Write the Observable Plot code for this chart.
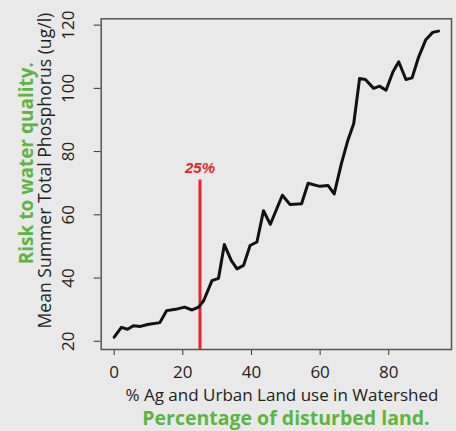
<!DOCTYPE html>
<html>
<head>
<meta charset="utf-8">
<script src="https://cdn.jsdelivr.net/npm/d3@7"></script>
<script src="https://cdn.jsdelivr.net/npm/@observablehq/plot@0.6"></script>
<style>
  html, body { margin: 0; padding: 0; background: #e9e9e9; }
</style>
</head>
<body>
<div id="chart"></div>
<script>
const pctDisturbed = [0,2.1,3.9,5.6,7.7,9.7,13.3,15.3,17.9,20.5,22.7,24.6,26.1,28.5,30.4,32.1,34.1,35.8,37.7,39.6,41.6,43.5,45.5,49.0,51.2,54.6,56.5,59.9,62.3,64.1,66.2,68.1,69.8,71.5,73.2,75.6,77.3,79.2,81.2,82.9,85.0,86.8,88.7,90.8,92.8,94.5];
const phosphorus = [21.3,24.4,23.8,24.9,24.7,25.3,25.9,29.7,30.1,30.8,29.9,30.8,32.9,39.2,39.9,50.6,45.6,42.9,44.0,50.3,51.4,61.3,57.0,66.2,63.3,63.5,70.0,69.0,69.3,66.6,76.2,83.6,88.9,103.1,102.8,100.0,100.7,99.4,105.2,108.4,102.8,103.3,109.9,115.4,117.7,118.1];
const xTicks = [0, 20, 40, 60, 80];
const yTicks = [20, 40, 60, 80, 100, 120];
const cutoff = 25;
const cutoffTop = 71;
const cutoffLabel = "25%";
const xLabel = "% Ag and Urban Land use in Watershed";
const xNote = "Percentage of disturbed land.";
const yLabel = "Mean Summer Total Phosphorus (ug/l)";
const yNote = "Risk to water quality.";

const data = pctDisturbed.map((x, i) => ({x, y: phosphorus[i]}));
const xDomain = [-3.78, 98.28];
const yDomain = [17.4, 122.0];
const green = "#5db543";
const red = "#e8262a";
const font = "'Open Sans', Lato, sans-serif";

const chart = Plot.plot({
  width: 456,
  height: 431,
  marginLeft: 100.7,
  marginRight: 5,
  marginTop: 18.3,
  marginBottom: 82,
  style: {background: "#e9e9e9", fontFamily: font, color: "#222"},
  x: {domain: xDomain},
  y: {domain: yDomain},
  marks: [
    Plot.axisX({ticks: xTicks, tickSize: 6, tickPadding: 10, fontSize: 17, label: null, stroke: "#333"}),
    Plot.axisY({ticks: yTicks, tickSize: 7, tickPadding: 20, tickRotate: -90, fontSize: 17, label: null, stroke: "#333"}),
    Plot.ruleX([cutoff], {x: d => d, y1: yDomain[0], y2: cutoffTop, stroke: red, strokeWidth: 3}),
    Plot.line(data, {x: "x", y: "y", stroke: "#111", strokeWidth: 3, strokeLinejoin: "round"}),
    Plot.frame({stroke: "#555", strokeWidth: 1.5}),
    Plot.text([cutoffLabel], {x: cutoff, y: cutoffTop, dy: -12, text: d => d, fill: red, fontWeight: "bold", fontStyle: "italic", fontSize: 15, fontFamily: "'Liberation Sans', Arial, sans-serif"}),
    Plot.text([xLabel], {frameAnchor: "bottom", textAnchor: "middle", lineAnchor: "middle", text: d => d, dx: 5.6, dy: 46.5, fontSize: 17, fill: "#222"}),
    Plot.text([xNote], {frameAnchor: "bottom", textAnchor: "middle", lineAnchor: "middle", text: d => d, dx: 9.6, dy: 69.5, fontSize: 19.5, fontWeight: "bold", fill: green}),
    Plot.text([yLabel], {frameAnchor: "left", textAnchor: "middle", lineAnchor: "middle", text: d => d, dx: -55.7, dy: -13.5, rotate: -90, fontSize: 17.6, fill: "#222"}),
    Plot.text([yNote], {frameAnchor: "left", textAnchor: "middle", lineAnchor: "middle", text: d => d, dx: -74, dy: -21, rotate: -90, fontSize: 19, fontWeight: "bold", fill: green})
  ]
});
document.getElementById("chart").appendChild(chart);
</script>
</body>
</html>
